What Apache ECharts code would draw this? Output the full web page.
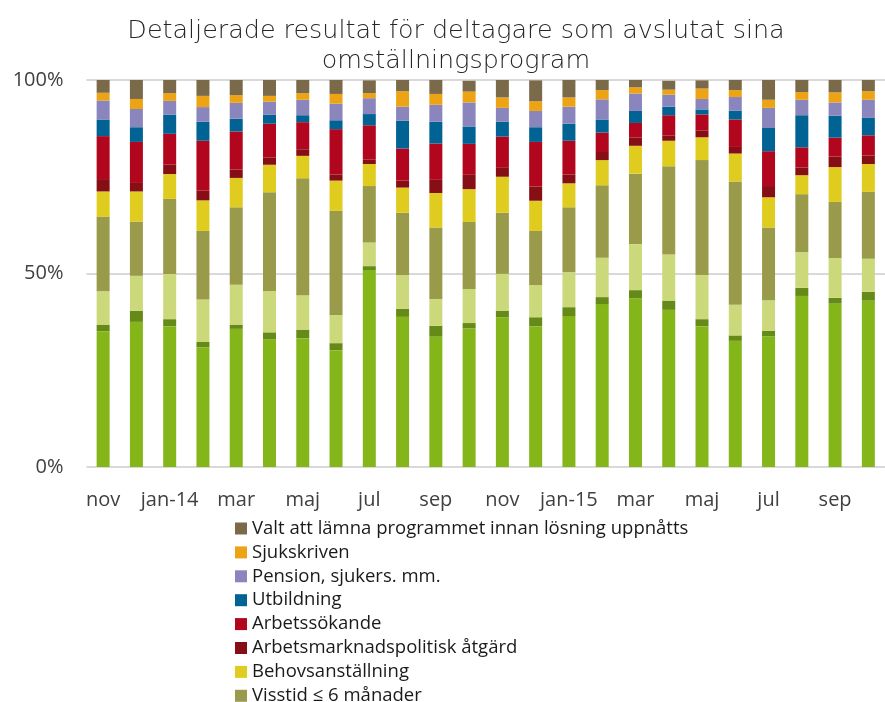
<!DOCTYPE html>
<html>
<head>
<meta charset="utf-8">
<title>Detaljerade resultat</title>
<script src="https://cdn.jsdelivr.net/npm/echarts@6/dist/echarts.min.js"></script>
<style>
  html, body { margin: 0; padding: 0; background: #fff; }
  #chart { width: 885px; height: 702px; }
</style>
</head>
<body>
<div id="chart"></div>
<script>
// kategorier: månader nov 2013 - okt 2015
const months = ['nov', 'dec', 'jan-14', 'feb', 'mar', 'apr', 'maj', 'jun', 'jul', 'aug', 'sep', 'okt',
                'nov', 'dec', 'jan-15', 'feb', 'mar', 'apr', 'maj', 'jun', 'jul', 'aug', 'sep', 'okt']
const yTicks = [0, 50, 100]

// andelar i procent, nedifrån och upp i stapeln
const tillsvidare = [35.1, 37.5, 36.4, 30.9, 35.7, 33.0, 33.3, 30.2, 50.9, 38.8, 33.7, 35.8, 38.7, 36.4, 39.0, 42.1, 43.6, 40.6, 36.4, 32.6, 33.8, 44.2, 42.2, 43.0]
const egetForetag = [1.7, 2.9, 1.8, 1.4, 1.1, 1.8, 2.2, 1.8, 1.0, 2.1, 2.8, 1.4, 1.7, 2.3, 2.3, 1.8, 2.1, 2.4, 1.8, 1.4, 1.4, 2.1, 1.5, 2.3]
const visstidLang = [8.6, 9.0, 11.7, 11.0, 10.3, 10.7, 8.9, 7.3, 6.1, 8.7, 6.9, 8.8, 9.5, 8.3, 9.0, 10.2, 11.9, 11.9, 11.4, 7.9, 7.9, 9.2, 10.3, 8.5]
const visstidKort = [19.3, 14.0, 19.4, 17.7, 20.0, 25.5, 30.2, 26.9, 14.6, 16.1, 18.5, 17.3, 15.8, 14.0, 16.8, 18.7, 18.2, 22.8, 29.7, 31.9, 18.8, 15.0, 14.5, 17.3]
const behov = [6.5, 7.8, 6.4, 7.9, 7.6, 7.1, 5.8, 7.8, 5.7, 6.5, 8.9, 8.5, 9.3, 7.8, 6.2, 6.5, 7.2, 6.6, 5.9, 7.2, 7.8, 4.9, 9.0, 7.2]
const atgard = [3.2, 2.2, 2.5, 2.5, 2.2, 1.9, 1.7, 1.6, 1.2, 1.8, 3.4, 3.7, 2.3, 3.7, 2.3, 2.1, 2.1, 1.4, 1.8, 1.7, 2.9, 2.0, 2.7, 2.2]
const arbetssokande = [11.1, 10.6, 7.9, 12.9, 9.8, 8.7, 7.0, 11.7, 8.8, 8.3, 9.4, 8.0, 8.1, 11.5, 8.7, 5.0, 3.8, 5.2, 4.1, 7.1, 9.0, 5.2, 4.9, 5.2]
const utbildning = [4.3, 3.8, 4.9, 4.9, 3.3, 2.3, 1.8, 2.3, 2.9, 7.2, 5.6, 4.5, 3.8, 3.8, 4.4, 3.4, 3.1, 2.2, 1.3, 2.3, 6.0, 8.3, 5.7, 4.5]
const pension = [4.9, 4.7, 3.6, 3.8, 4.1, 3.4, 4.0, 4.3, 4.1, 3.6, 4.4, 6.2, 3.6, 4.2, 4.4, 5.2, 4.5, 3.1, 2.7, 3.5, 5.2, 4.0, 3.4, 4.7]
const sjukskriven = [2.0, 2.6, 2.0, 2.9, 2.0, 1.5, 1.7, 2.5, 1.3, 4.0, 2.8, 2.8, 2.7, 2.5, 2.4, 2.4, 1.6, 1.3, 2.7, 1.8, 2.1, 2.0, 2.6, 2.2]
const valtAttLamna = [3.4, 5.1, 3.4, 4.1, 4.0, 4.1, 3.4, 3.6, 3.3, 2.9, 3.7, 2.8, 4.5, 5.4, 4.5, 2.7, 2.1, 2.3, 2.1, 2.7, 5.2, 3.3, 3.3, 2.9]

const seriesList = [
  { name: 'Tillsvidareanställning', data: tillsvidare, color: '#85b619' },
  { name: 'Eget företag', data: egetForetag, color: '#668a17' },
  { name: 'Visstid > 6 månader', data: visstidLang, color: '#ccd97a' },
  { name: 'Visstid ≤ 6 månader', data: visstidKort, color: '#999b4b' },
  { name: 'Behovsanställning', data: behov, color: '#e0cc1f' },
  { name: 'Arbetsmarknadspolitisk åtgärd', data: atgard, color: '#860f16' },
  { name: 'Arbetssökande', data: arbetssokande, color: '#b1061d' },
  { name: 'Utbildning', data: utbildning, color: '#006393' },
  { name: 'Pension, sjukers. mm.', data: pension, color: '#8a86bd' },
  { name: 'Sjukskriven', data: sjukskriven, color: '#eca415' },
  { name: 'Valt att lämna programmet innan lösning uppnåtts', data: valtAttLamna, color: '#7a6a49' }
]

// legenden visar bara de översta åtta, i omvänd ordning (resten är utanför bilden)
const legendNames = seriesList.slice(3).map(s => s.name).reverse()

const chart = echarts.init(document.getElementById('chart'))
const option = {
  animation: false,
  title: {
    text: 'Detaljerade resultat för deltagare som avslutat sina\nomställningsprogram',
    left: 456,
    textAlign: 'center',
    top: 16,
    padding: 0,
    textStyle: {
      fontFamily: 'DejaVu Sans',
      fontWeight: 200,
      fontSize: 25.4,
      lineHeight: 30,
      color: '#262626'
    }
  },
  legend: {
    data: legendNames,
    orient: 'vertical',
    left: 235,
    top: 519,
    height: 400,
    padding: 0,
    icon: 'rect',
    itemWidth: 12,
    itemHeight: 12,
    itemGap: 4.9,
    textStyle: {
      fontFamily: 'Open Sans',
      fontSize: 18.5,
      lineHeight: 18.5,
      color: '#1a1a1a'
    }
  },
  grid: {
    left: 86.5,
    top: 80,
    width: 804,
    bottom: 235,
    containLabel: false
  },
  xAxis: {
    type: 'category',
    data: months,
    axisLine: { show: false },
    axisTick: { show: false },
    axisLabel: {
      interval: 1,
      margin: 23,
      fontFamily: 'Open Sans',
      fontSize: 20,
      color: '#404040'
    }
  },
  yAxis: {
    type: 'value',
    min: yTicks[0],
    max: yTicks[yTicks.length - 1],
    interval: 50,
    axisLine: { show: false },
    axisTick: { show: false },
    splitLine: { lineStyle: { color: '#d9d9d9', width: 2 } },
    axisLabel: {
      formatter: '{value}%',
      margin: 23,
      fontFamily: 'Open Sans',
      fontSize: 20,
      color: '#404040'
    }
  },
  series: seriesList.map(s => ({
    name: s.name,
    type: 'bar',
    stack: 'total',
    barWidth: 13,
    data: s.data,
    itemStyle: { color: s.color }
  }))
}
chart.setOption(option)
</script>
</body>
</html>
